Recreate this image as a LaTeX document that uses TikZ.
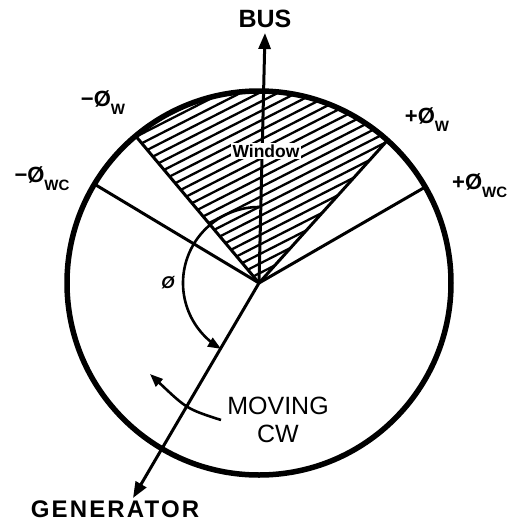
\documentclass[tikz,border=0pt]{standalone}
\usepackage{fontspec}
\setmainfont{Liberation Sans}
\usetikzlibrary{arrows.meta,calc}
\newcommand{\lowsub}[1]{\raisebox{-8pt}{\fontsize{15}{15}\selectfont #1}}
\begin{document}
\begin{tikzpicture}[x=1pt,y=-1pt,
  ring/.style={line width=5.5pt},
  ray/.style={line width=3pt},
  hatchline/.style={line width=2.3pt},
  bigarrow/.style={line width=3pt,-{Triangle[length=16pt,width=12pt]}},
  smallarrow/.style={line width=2.6pt,-{Triangle[length=13pt,width=10pt]}},
  anglbl/.style={font=\bfseries\fontsize{22}{22}\selectfont, inner sep=0pt},
  buslbl/.style={font=\bfseries\fontsize{25}{25}\selectfont, inner sep=0pt},
  genlbl/.style={font=\bfseries\fontsize{24}{24}\selectfont\addfontfeatures{LetterSpace=9}, inner sep=0pt},
  winlbl/.style={font=\bfseries\fontsize{17.5}{17.5}\selectfont, fill=white, inner sep=1.5pt},
  movlbl/.style={font=\fontsize{25}{28}\selectfont, align=center, inner sep=0pt}
]
\useasboundingbox (0,0) rectangle (507,523);
\coordinate (hub) at (259,283);
\coordinate (wL)  at ($(hub)+(-130:192)$);
\coordinate (wR)  at ($(hub)+(-48:192)$);
\coordinate (wcL) at ($(hub)+(-149:192)$);
\coordinate (wcR) at ($(hub)+(-30:192)$);
\coordinate (busTip) at (265,33);
\coordinate (genTip) at (133,498);
\coordinate (mvS) at (221,420);
\coordinate (mvE) at (150,374);

% hatching of the window sector
\begin{scope}
  \clip (hub) circle[radius=192];
  \clip (hub) -- ($(hub)+(-48:400)$) -- ($(hub)+(-90:500)$) -- ($(hub)+(-130:400)$) -- cycle;
  \foreach \k in {-36,...,10}
    \draw[hatchline] ($(hub)+(0,\k*9.5)+(-27:-320)$) -- ++(-27:640);
\end{scope}

% rays
\draw[ray] (hub) -- (wL);
\draw[ray] (hub) -- (wR);
\draw[ray] (hub) -- (wcL);
\draw[ray] (hub) -- (wcR);

% circle
\draw[ring] (hub) circle[radius=192];

% bus and generator phasors
\draw[bigarrow] (hub) -- (busTip);
\draw[bigarrow] (hub) -- (genTip);

% angle arc
\begin{scope}[shift={(hub)}]
  \draw[smallarrow] plot[domain=-90:-240, samples=60] (\x:76);
\end{scope}

% moving cw arrow
\draw[smallarrow] (mvS) .. controls (187,409) .. (mvE);

% labels
\node[buslbl] (bus) at (265,19) {BUS};
\node[genlbl] (gen) at (115,509) {GENERATOR};
\node[winlbl] (win) at (266,151) {Window};
\node[movlbl] (mov) at (278,420) {MOVING\\CW};
\node[font=\bfseries\fontsize{17}{17}\selectfont\itshape, inner sep=0pt] (theta) at (168,283) {Ø};
\node[anglbl] (lw) at (103,103) {−Ø\lowsub{W}};
\node[anglbl] (rw) at (427,120) {+Ø\lowsub{W}};
\node[anglbl] (lwc) at (42,179) {−Ø\lowsub{WC}};
\node[anglbl, anchor=west] (rwc) at (452,186) {+Ø\lowsub{WC}};
\end{tikzpicture}
\end{document}
